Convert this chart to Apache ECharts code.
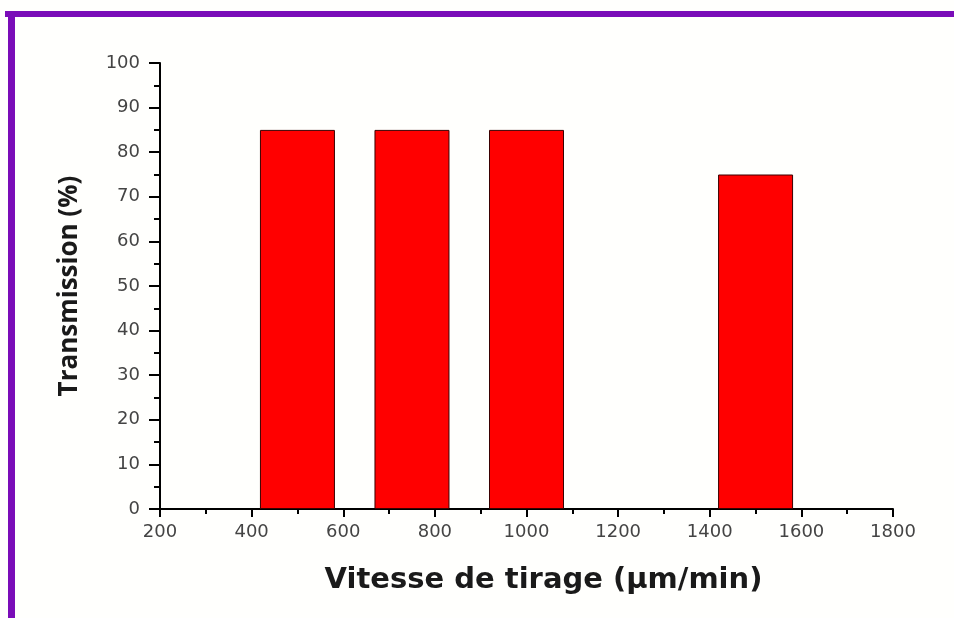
<!DOCTYPE html>
<html>
<head>
<meta charset="utf-8">
<script src="https://cdn.jsdelivr.net/npm/echarts@6/dist/echarts.min.js"></script>
<style>html,body{margin:0;padding:0;background:#fff;}#c{width:954px;height:618px;}</style>
</head>
<body>
<div id="c"></div>
<script>
const speeds = [500, 750, 1000, 1500];
const transmission = [85, 85, 85, 75];
const xTicks = [200, 1800, 200];
const yTicks = [0, 100, 10];

const chart = echarts.init(document.getElementById('c'));
chart.setOption({
  backgroundColor: '#fffffd',
  animation: false,
  graphic: [
    {type: 'rect', shape: {x: 5, y: 11, width: 949, height: 6}, style: {fill: '#7a0db8'}},
    {type: 'rect', shape: {x: 8, y: 11, width: 7, height: 607}, style: {fill: '#7a0db8'}}
  ],
  grid: {left: 160, right: 61, top: 63, bottom: 109},
  xAxis: {
    type: 'value', min: xTicks[0], max: xTicks[1], interval: xTicks[2],
    name: 'Vitesse de tirage (µm/min)', nameLocation: 'middle', nameGap: 57,
    nameTextStyle: {fontFamily: 'DejaVu Sans', fontWeight: 'bold', fontSize: 29, color: '#1a1a1a', padding: [0, 0, 0, 34]},
    axisLine: {onZero: false, lineStyle: {color: '#000', width: 2}},
    axisTick: {length: 8, lineStyle: {color: '#000', width: 2}},
    minorTick: {show: true, splitNumber: 2, length: 5, lineStyle: {color: '#000', width: 2}},
    axisLabel: {fontFamily: 'DejaVu Sans', fontSize: 18, color: '#444', margin: 14, formatter: v => String(v)},
    splitLine: {show: false}
  },
  yAxis: {
    type: 'value', min: yTicks[0], max: yTicks[1], interval: yTicks[2],
    name: 'Transmission (%)', nameLocation: 'middle', nameGap: 77,
    nameTextStyle: {fontFamily: 'Open Sans', fontWeight: 'bold', fontSize: 26, color: '#1a1a1a'},
    axisLine: {show: true, lineStyle: {color: '#000', width: 2}},
    axisTick: {show: true, length: 11, lineStyle: {color: '#000', width: 2}},
    minorTick: {show: true, splitNumber: 2, length: 6, lineStyle: {color: '#000', width: 2}},
    axisLabel: {fontFamily: 'DejaVu Sans', fontSize: 18, color: '#444', margin: 20},
    splitLine: {show: false}
  },
  series: [{
    type: 'bar',
    data: speeds.map((s, i) => [s, transmission[i]]),
    barWidth: 75,
    itemStyle: {color: '#ff0000', borderColor: '#3a0000', borderWidth: 1}
  }]
});
</script>
</body>
</html>
